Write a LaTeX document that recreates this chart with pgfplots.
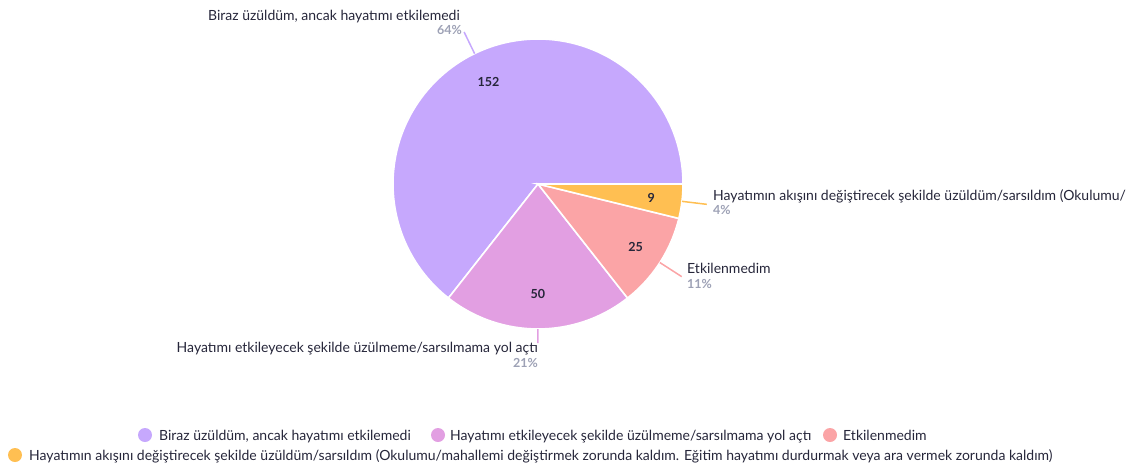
\documentclass[border=0pt]{standalone}
\usepackage{pgfplots}
\pgfplotsset{compat=1.18}
\usepackage{pgfplotstable}
\usepackage{fontspec}
\setmainfont{Lato}
\definecolor{c1}{HTML}{C6A8FD}
\definecolor{c2}{HTML}{E29FE2}
\definecolor{c3}{HTML}{FBA4A6}
\definecolor{c4}{HTML}{FFBF52}
\definecolor{txt}{HTML}{26263A}
\definecolor{pct}{HTML}{9DA1B5}

\pgfplotstableread{
value
152
50
25
9
}\piedata
\pgfplotstablegetelem{0}{value}\of\piedata \edef\vA{\pgfplotsretval}
\pgfplotstablegetelem{1}{value}\of\piedata \edef\vB{\pgfplotsretval}
\pgfplotstablegetelem{2}{value}\of\piedata \edef\vC{\pgfplotsretval}
\pgfplotstablegetelem{3}{value}\of\piedata \edef\vD{\pgfplotsretval}
\pgfmathsetmacro\tot{\vA+\vB+\vC+\vD}
\pgfmathsetmacro\fA{\vA/\tot}
\pgfmathsetmacro\fB{\vB/\tot}
\pgfmathsetmacro\fC{\vC/\tot}
\pgfmathsetmacro\fD{\vD/\tot}
\pgfmathsetmacro\aA{0}
\pgfmathsetmacro\aB{\aA+360*\fA}
\pgfmathsetmacro\aC{\aB+360*\fB}
\pgfmathsetmacro\aD{\aC+360*\fC}
\pgfmathsetmacro\aE{360}
\pgfmathsetmacro\mA{(\aA+\aB)/2}
\pgfmathsetmacro\mB{(\aB+\aC)/2}
\pgfmathsetmacro\mC{(\aC+\aD)/2}
\pgfmathsetmacro\mD{(\aD+\aE)/2}
\pgfmathtruncatemacro\pA{round(100*\fA)}
\pgfmathtruncatemacro\pB{round(100*\fB)}
\pgfmathtruncatemacro\pC{round(100*\fC)}
\pgfmathtruncatemacro\pD{round(100*\fD)}

\begin{document}
\begin{tikzpicture}
\begin{axis}[
  hide axis, scale only axis, clip=false,
  width=1146pt, height=469pt,
  xmin=0, xmax=1146, ymin=0, ymax=469, y dir=reverse,
]
\coordinate (SW) at (axis cs:0,469);
\coordinate (NE) at (axis cs:1146,0);
\def\R{145pt}
% slices
\fill[c1, draw=white, line width=1.6pt] (axis cs:538,184) -- ++(\aA:\R) arc[start angle=\aA, end angle=\aB, radius=\R] -- cycle;
\fill[c2, draw=white, line width=1.6pt] (axis cs:538,184) -- ++(\aB:\R) arc[start angle=\aB, end angle=\aC, radius=\R] -- cycle;
\fill[c3, draw=white, line width=1.6pt] (axis cs:538,184) -- ++(\aC:\R) arc[start angle=\aC, end angle=\aD, radius=\R] -- cycle;
\fill[c4, draw=white, line width=1.6pt] (axis cs:538,184) -- ++(\aD:\R) arc[start angle=\aD, end angle=\aE, radius=\R] -- cycle;
% inner values
\path[font=\bfseries\fontsize{12.5}{14}\selectfont, text=txt]
  (axis cs:538,184) ++(\mA:113pt) node {\vA}
  (axis cs:538,184) ++(\mB:110pt) node {\vB}
  (axis cs:538,184) ++(\mC:116pt) node {\vC}
  (axis cs:538,184) ++(\mD:114pt) node {\vD};
% leader lines
\draw[c1, line width=1.5pt] (axis cs:538,184) ++(\mA:\R) -- ++(\mA:24pt);
\draw[c2, line width=1.5pt] (axis cs:538,184) ++(\mB:\R) -- ++(\mB:14pt);
\draw[c3, line width=1.5pt] (axis cs:538,184) ++(\mC:\R) -- ++(\mC:26pt);
\draw[c4, line width=1.5pt] (axis cs:538,184) ++(\mD:\R) -- ++(\mD:25pt);
% outer labels
\begin{scope}[every node/.style={inner sep=0pt, font=\fontsize{14}{16}\selectfont, text=txt}]
\node[anchor=base east] at (axis cs:460,20) {Biraz üzüldüm, ancak hayatımı etkilemedi};
\node[anchor=base east, text=pct, font=\bfseries\fontsize{12.5}{14}\selectfont] at (axis cs:462,34) {\pA\%};
\node[anchor=base west] at (axis cs:713,200) {Hayatımın akışını değiştirecek şekilde üzüldüm/sarsıldım (Okulumu/};
\node[anchor=base west, text=pct, font=\bfseries\fontsize{12.5}{14}\selectfont] at (axis cs:713,214) {\pD\%};
\node[anchor=base west] at (axis cs:687,273) {Etkilenmedim};
\node[anchor=base west, text=pct, font=\bfseries\fontsize{12.5}{14}\selectfont] at (axis cs:687,288) {\pC\%};
\node[anchor=base east] at (axis cs:538,352) {Hayatımı etkileyecek şekilde üzülmeme/sarsılmama yol açtı};
\node[anchor=base east, text=pct, font=\bfseries\fontsize{12.5}{14}\selectfont] at (axis cs:538,367) {\pB\%};
\end{scope}
% legend
\fill[c1] (axis cs:145,435) circle[radius=7pt];
\fill[c2] (axis cs:438,435) circle[radius=7pt];
\fill[c3] (axis cs:830,435) circle[radius=7pt];
\fill[c4] (axis cs:15,455) circle[radius=7pt];
\begin{scope}[every node/.style={inner sep=0pt, anchor=base west, font=\fontsize{14}{16}\selectfont, text=txt}]
\node at (axis cs:159,440) {Biraz üzüldüm, ancak hayatımı etkilemedi};
\node at (axis cs:450,440) {Hayatımı etkileyecek şekilde üzülmeme/sarsılmama yol açtı};
\node at (axis cs:843,440) {Etkilenmedim};
\node at (axis cs:29,460) {Hayatımın akışını değiştirecek şekilde üzüldüm/sarsıldım (Okulumu/mahallemi değiştirmek zorunda kaldım. Eğitim hayatımı durdurmak veya ara vermek zorunda kaldım)};
\end{scope}
\end{axis}
\pgfresetboundingbox
\path (SW) rectangle (NE);
\end{tikzpicture}
\end{document}
